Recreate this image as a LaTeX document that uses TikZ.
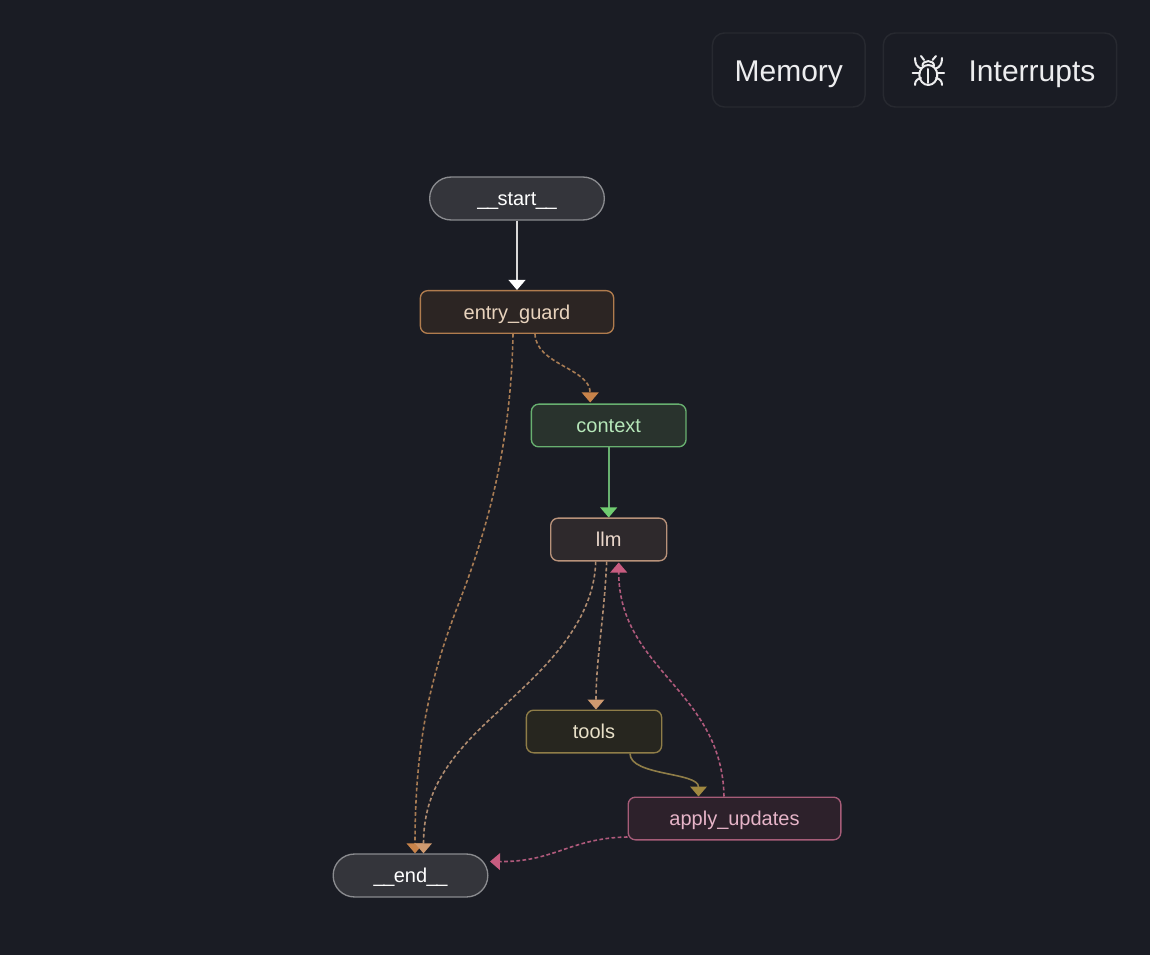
\documentclass[tikz,border=0pt]{standalone}
\usepackage{fontspec}
\setmainfont{Liberation Sans}
\usetikzlibrary{arrows.meta,calc}
\definecolor{bg}{HTML}{1A1C24}
\definecolor{btnline}{HTML}{272930}
\definecolor{btntext}{HTML}{EDEDEF}
\definecolor{endfill}{HTML}{34353B}
\definecolor{endline}{HTML}{8A8B8F}
\definecolor{guardfill}{HTML}{2C2523}
\definecolor{guardline}{HTML}{B07C4E}
\definecolor{guardtext}{HTML}{E8D3BD}
\definecolor{ctxfill}{HTML}{29332D}
\definecolor{ctxline}{HTML}{68B070}
\definecolor{ctxtext}{HTML}{B5E6B8}
\definecolor{llmfill}{HTML}{2E292C}
\definecolor{llmline}{HTML}{B8927A}
\definecolor{llmtext}{HTML}{EBD8CC}
\definecolor{toolfill}{HTML}{27261F}
\definecolor{toolline}{HTML}{8F7D48}
\definecolor{tooltext}{HTML}{E8E0C8}
\definecolor{applyfill}{HTML}{2D212B}
\definecolor{applyline}{HTML}{A65C78}
\definecolor{applytext}{HTML}{E6B4C8}
\definecolor{guardedge}{HTML}{A87C54}
\definecolor{guardtip}{HTML}{C8834A}
\definecolor{llmedge}{HTML}{B08C70}
\definecolor{llmtip}{HTML}{CF9A70}
\definecolor{pinkedge}{HTML}{B05A7C}
\definecolor{pinktip}{HTML}{C85C80}
\definecolor{greenedge}{HTML}{68B070}
\definecolor{greentip}{HTML}{70CC70}
\definecolor{toolsedge}{HTML}{8F7D48}
\definecolor{toolstip}{HTML}{A08840}
\newcommand\usc{\kern-0.5pt\_\kern-0.5pt}
\tikzset{
  x=0.75pt,y=-0.75pt,
  base/.style={draw,line width=1pt,inner sep=0pt,rounded corners=5.5pt,font=\fontsize{15}{18}\selectfont,anchor=center,text height=14pt,text depth=3pt},
  pill/.style={base,draw=endline,fill=endfill,text=white,rounded corners=16pt,minimum height=32.2pt},
  box/.style={base,minimum height=32pt},
  btn/.style={draw=btnline,line width=1.1pt,rounded corners=9pt,minimum height=55.5pt,inner sep=0pt},
  btnlabel/.style={text=btntext,font=\fontsize{22.5}{26}\selectfont,inner sep=0pt,anchor=center,text height=21pt,text depth=3pt},
  edge/.style={line width=1.2pt},
  dashededge/.style={edge,dash pattern=on 2.8pt off 1.8pt},
  tip/.style={-{Triangle[length=7.5pt,width=12.5pt,color=#1,sep=0pt]}},
  bug/.style={draw=btntext,line width=1.5pt,line cap=round,line join=round}
}
\begin{document}
\begin{tikzpicture}
\useasboundingbox[fill=bg] (0,0) rectangle (1150,955);
% buttons
\node[btn,minimum width=114.5pt] (memory) at (788.8,70) {};
\node[btnlabel] (memorylabel) at (788.8,70) {Memory};
\node[btn,minimum width=175pt] (interrupts) at (1000,70) {};
\node[btnlabel] (interruptslabel) at (1032,70) {Interrupts};
% bug icon
\draw[bug] (928.3,75) ellipse (9 and 10);
\draw[bug] (922.5,66) .. controls (922,59.5) and (934.5,59.5) .. (934,66);
\draw[bug] (928.3,69) -- (928.3,83);
\draw[bug] (921,56) -- (924,60) (936,56) -- (932.5,60);
\draw[bug] (915,58) .. controls (915,64) and (917,67) .. (921,68.5);
\draw[bug] (942,58) .. controls (942,64) and (940,67) .. (936,68.5);
\draw[bug] (912.5,73) -- (919.5,73) (937,73) -- (944,73);
\draw[bug] (915,85) .. controls (915,81) and (917,79) .. (921,78);
\draw[bug] (942,85) .. controls (942,81) and (940,79) .. (936,78);
% nodes
\node[pill,minimum width=131pt] (start) at (517,198.5) {\usc\usc start\usc\usc};
\node[box,draw=guardline,fill=guardfill,text=guardtext,minimum width=145pt] (guard) at (517,312) {entry\_guard};
\node[box,draw=ctxline,fill=ctxfill,text=ctxtext,minimum width=116pt] (context) at (608.7,425.5) {context};
\node[box,draw=llmline,fill=llmfill,text=llmtext,minimum width=87pt] (llm) at (608.7,539.5) {llm};
\node[box,draw=toolline,fill=toolfill,text=tooltext,minimum width=101.5pt] (tools) at (594,731.5) {tools};
\node[box,draw=applyline,fill=applyfill,text=applytext,minimum width=159.5pt] (apply) at (734.5,818.5) {apply\_updates};
\node[pill,minimum width=116pt] (end) at (410.5,875.5) {\usc\usc end\usc\usc};
% connectors
\draw[edge,draw=white!85!black,tip=white] (start.south) -- (guard.north);
\draw[dashededge,draw=guardedge,tip=guardtip] ($(guard.south)+(18,0)$) .. controls (536,365) and (590.2,368) .. ($(context.north)+(-18.5,-1)$);
\draw[dashededge,draw=guardedge,tip=guardtip] ($(guard.south)+(-4,0)$) .. controls (511,450) and (485,535) .. (460,600) .. controls (435,665) and (415,730) .. ($(end.north)+(4.5,0)$);
\draw[edge,draw=greenedge,tip=greentip] (context.south) -- (llm.north);
\draw[dashededge,draw=llmedge,tip=llmtip] ($(llm.south)+(-13,0)$) .. controls (594,630) and (530,680) .. (500,710) .. controls (450,755) and (423.5,790) .. ($(end.north)+(13,0)$);
\draw[dashededge,draw=llmedge,tip=llmtip] ($(llm.south)+(-2,0)$) .. controls (604,620) and (596,660) .. ($(tools.north)+(2,0)$);
\draw[dashededge,draw=pinkedge,tip=pinktip] ($(apply.north)+(-10.5,0)$) .. controls (722,690) and (618.7,670) .. ($(llm.south)+(10,1)$);
\draw[edge,draw=toolsedge,tip=toolstip] ($(tools.south)+(36,0)$) .. controls (630,776) and (698.5,772) .. ($(apply.north)+(-36,0)$);
\draw[dashededge,draw=pinkedge,tip=pinktip] ($(apply.west)+(0,18.5)$) .. controls (570,838) and (555,862) .. ($(end.east)+(1.5,-14)$);
\end{tikzpicture}
\end{document}
